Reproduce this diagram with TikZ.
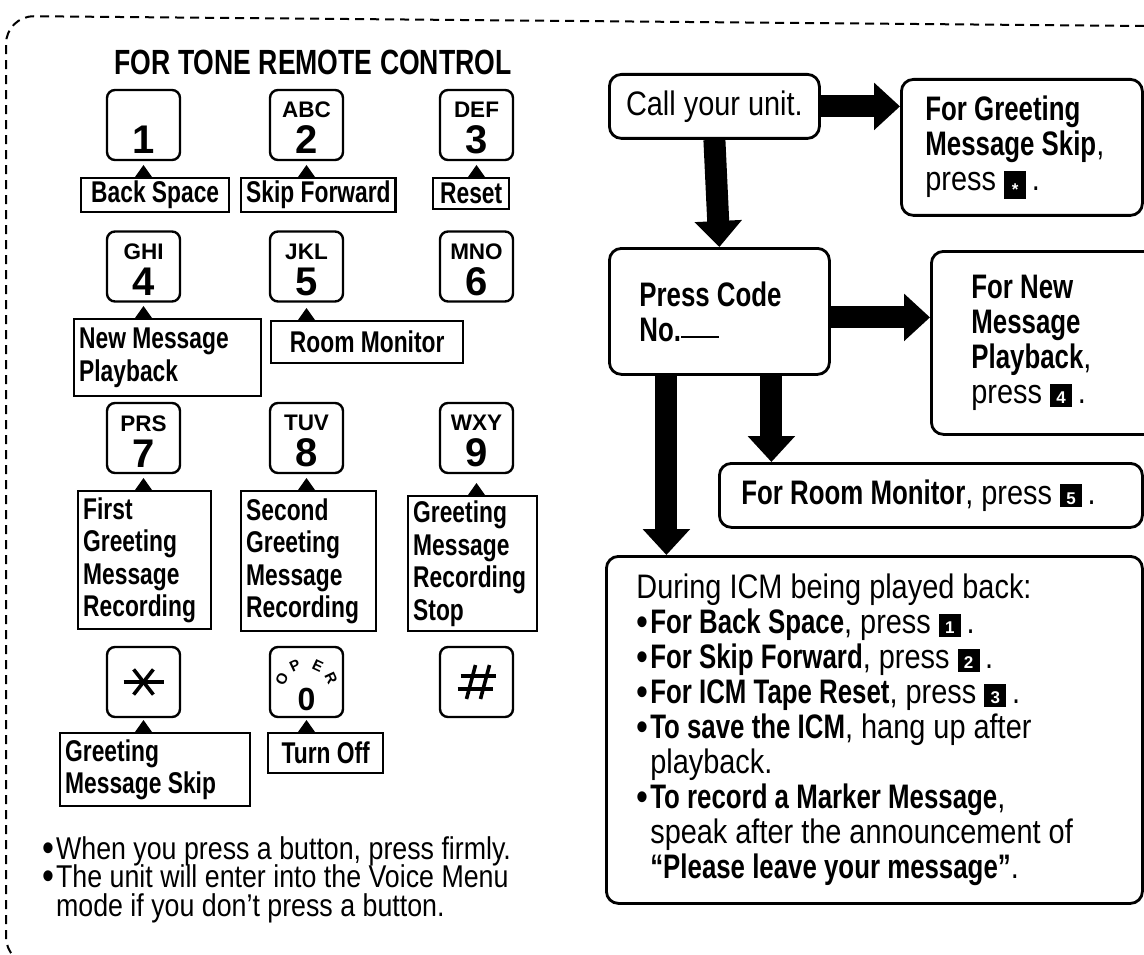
\documentclass[tikz,border=0pt]{standalone}
\usepackage{fontspec}
\setmainfont{Liberation Sans}[FakeStretch=0.85]
\newfontfamily\narrowfont{Liberation Sans}[FakeStretch=0.76]
\newfontfamily\keypadfont{Liberation Sans}
\usetikzlibrary{positioning,arrows.meta,calc}
\newcommand\lblfont{\narrowfont\bfseries\fontsize{30}{32.5}\selectfont}
\newcommand\flowfont{\fontsize{34}{35}\selectfont}
\newcommand\notefont{\fontsize{31.5}{28.5}\selectfont\lineskiplimit=-20pt}
\newcommand\keyfont{\keypadfont\bfseries\fontsize{40}{36}\selectfont}
\newcommand\abcfont{\fontsize{22.5}{24}\selectfont}
\newcommand\fb[1]{{\narrowfont\bfseries #1}}
\newcommand\bul{\smash{\raisebox{-2pt}{\fontsize{40}{30}\selectfont•}}\hspace{2pt}}
\newcommand\pkey[1]{\colorbox{black}{\makebox[16pt]{\rule{0pt}{17pt}\textcolor{white}{\keypadfont\bfseries\fontsize{17}{17}\selectfont #1}}}}
\setlength{\fboxsep}{3pt}
\tikzset{
  keycap/.style={draw, line width=2.4pt, rounded corners=8pt, minimum width=73pt,
                 minimum height=70pt, inner sep=0pt, align=center, font=\keyfont},
  fnlabel/.style={draw, line width=2.4pt, anchor=north west, inner xsep=5pt,
                  inner ysep=3pt, font=\lblfont},
  flowbox/.style={draw, line width=2.8pt, rounded corners=12pt, anchor=north west,
                  align=flush left, inner ysep=0pt, font=\flowfont},
  thickarrow/.style={line width=22pt, -{Triangle[width=46pt,length=26pt]}},
  dashframe/.style={line width=2pt, dash pattern=on 9pt off 6pt, rounded corners=28pt},
  symbolline/.style={line width=3.6pt}
}
\begin{document}
\begin{tikzpicture}[x=1pt, y=-1pt]
\useasboundingbox (0,0) rectangle (1144,955);
\draw[dashframe] (1144,26) -- (6,16) -- (6,965) -- (60,965);

% keypad
\node[anchor=base, inner sep=0pt, font=\narrowfont\bfseries\fontsize{35}{35}\selectfont] (title) at (313,75) {FOR TONE REMOTE CONTROL};
\node[keycap] (k1) at (143.5,125) {\rule{0pt}{22pt}\\1};
\node[keycap] (k2) at (306.5,125) {\rule{0pt}{22pt}{\abcfont ABC}\\2};
\node[keycap] (k3) at (476.5,125) {\rule{0pt}{22pt}{\abcfont DEF}\\3};
\node[keycap] (k4) at (143.5,266.5) {\rule{0pt}{22pt}{\abcfont GHI}\\4};
\node[keycap] (k5) at (306.5,266.5) {\rule{0pt}{22pt}{\abcfont JKL}\\5};
\node[keycap] (k6) at (476.5,266.5) {\rule{0pt}{22pt}{\abcfont MNO}\\6};
\node[keycap] (k7) at (143.5,438) {\rule{0pt}{22pt}{\abcfont PRS}\\7};
\node[keycap] (k8) at (306.5,438) {\rule{0pt}{22pt}{\abcfont TUV}\\8};
\node[keycap] (k9) at (476.5,438) {\rule{0pt}{22pt}{\abcfont WXY}\\9};
\node[keycap] (kast) at (143.5,682) {};
\node[keycap] (k0) at (306.5,682) {\rule{0pt}{22pt}\\{\fontsize{32}{36}\selectfont 0}};
\node[keycap] (khash) at (476.5,682) {};
\foreach \ch/\ang [count=\i] in {O/155, P/115, E/65, R/25}
  \node[font=\keypadfont\bfseries\fontsize{15}{15}\selectfont, rotate=\ang-90, inner sep=0pt]
    (oper\i) at ($(k0.center)+(\ang:27pt)+(0pt,-8pt)$) {\ch};
\draw[symbolline] ($(kast.center)+(-20pt,0pt)$) -- ($(kast.center)+(20pt,0pt)$);
\foreach \a in {52,128}
  \draw[symbolline] ($(kast.center)+(\a:16pt)$) -- ($(kast.center)+(\a+180:16pt)$);
\draw[symbolline] ($(khash.center)+(-10pt,-17pt)$) -- ($(khash.center)+(-1pt,17pt)$);
\draw[symbolline] ($(khash.center)+(4pt,-17pt)$) -- ($(khash.center)+(13pt,17pt)$);
\draw[symbolline] ($(khash.center)+(-16pt,6pt)$) -- ($(khash.center)+(19pt,6pt)$);
\draw[symbolline] ($(khash.center)+(-19pt,-7pt)$) -- ($(khash.center)+(16pt,-7pt)$);

\node[fnlabel, minimum width=148pt, minimum height=31pt] (lbs) at (80,177) {Back Space};
\node[fnlabel, minimum width=150pt, minimum height=31pt] (lsf) at (240,177) {Skip Forward};
\node[fnlabel, minimum width=76pt, minimum height=31pt] (lrs) at (432,177) {Reset};
\node[fnlabel, align=flush left, text width=177pt, minimum height=77pt] (lnm) at (73,318) {New Message\\Playback};
\node[fnlabel, minimum width=192pt, minimum height=42pt] (lrm) at (270,320) {Room Monitor};
\node[fnlabel, align=flush left, text width=123pt, minimum height=138pt] (lfg) at (77,490) {First\\Greeting\\Message\\Recording};
\node[fnlabel, align=flush left, text width=125pt, minimum height=140pt] (lsg) at (240,490) {Second\\Greeting\\Message\\Recording};
\node[fnlabel, align=flush left, text width=119pt, minimum height=135pt] (lgs) at (407,495) {Greeting\\Message\\Recording\\Stop};
\node[fnlabel, align=flush left, text width=180pt, minimum height=73pt] (lgm) at (59,732) {Greeting\\Message Skip};
\node[fnlabel, minimum width=115pt, minimum height=40pt] (lto) at (267,732) {Turn Off};
\foreach \k/\l in {k1/lbs, k2/lsf, k3/lrs, k4/lnm, k5/lrm, k7/lfg, k8/lsg, k9/lgs, kast/lgm, k0/lto}
  \fill ($(\k.south |- \l.north)+(-8.5,0)$) -- ($(\k.south |- \l.north)+(0,-12)$)
        -- ($(\k.south |- \l.north)+(8.5,0)$) -- cycle;

\node[anchor=north west, align=left, inner sep=0pt, font=\notefont] (notes) at (42,836)
  {\bul When you press a button, press firmly.\\
   \bul The unit will enter into the Voice Menu\\
   \hphantom{\bul}mode if you don’t press a button.};

% flow chart
\node[flowbox, align=flush center, text width=194pt, inner xsep=8pt, minimum height=64pt] (call) at (608,73) {Call your unit.};
\node[flowbox, text width=193pt, inner xsep=24pt, minimum height=136pt] (greet) at (900,78)
  {\fb{For Greeting}\\\fb{Message Skip},\\press \pkey{\raisebox{-5pt}{*}}\,.};
\node[flowbox, text width=160pt, inner xsep=30pt, minimum height=126pt] (press) at (608,247)
  {\fb{Press Code}\\\fb{No.}\rule[3pt]{38pt}{2.2pt}};
\node[flowbox, text width=150pt, inner xsep=40pt, minimum height=183pt] (newmsg) at (930,250)
  {\fb{For New}\\\fb{Message}\\\fb{Playback},\\press \pkey{4}\,.};
\node[flowbox, text width=379pt, inner xsep=22pt, minimum height=64pt] (roommon) at (718,462)
  {\fb{For Room Monitor}, press \pkey{5}\,.};
\node[flowbox, text width=476pt, inner xsep=30pt, minimum height=347pt] (icm) at (605,555)
  {During ICM being played back:\\
   \bul\fb{For Back Space}, press \pkey{1}\,.\\
   \bul\fb{For Skip Forward}, press \pkey{2}\,.\\
   \bul\fb{For ICM Tape Reset}, press \pkey{3}\,.\\
   \bul\fb{To save the ICM}, hang up after\\
   \hphantom{\bul}playback.\\
   \bul\fb{To record a Marker Message},\\
   \hphantom{\bul}speak after the announcement of\\
   \hphantom{\bul}\fb{“Please leave your message”}.};

\draw[thickarrow] (call.east) -- (call.east -| greet.west);
\draw[thickarrow] (call.south) -- (press.north);
\draw[thickarrow] ([yshift=-6pt]press.east) -- ([yshift=-6pt]press.east -| newmsg.west);
\coordinate (pmid) at ([xshift=52pt]press.south);
\coordinate (pleft) at ([xshift=-53pt]press.south);
\draw[thickarrow] (pmid) -- (pmid |- roommon.north);
\draw[thickarrow] (pleft) -- (pleft |- icm.north);
\end{tikzpicture}
\end{document}
